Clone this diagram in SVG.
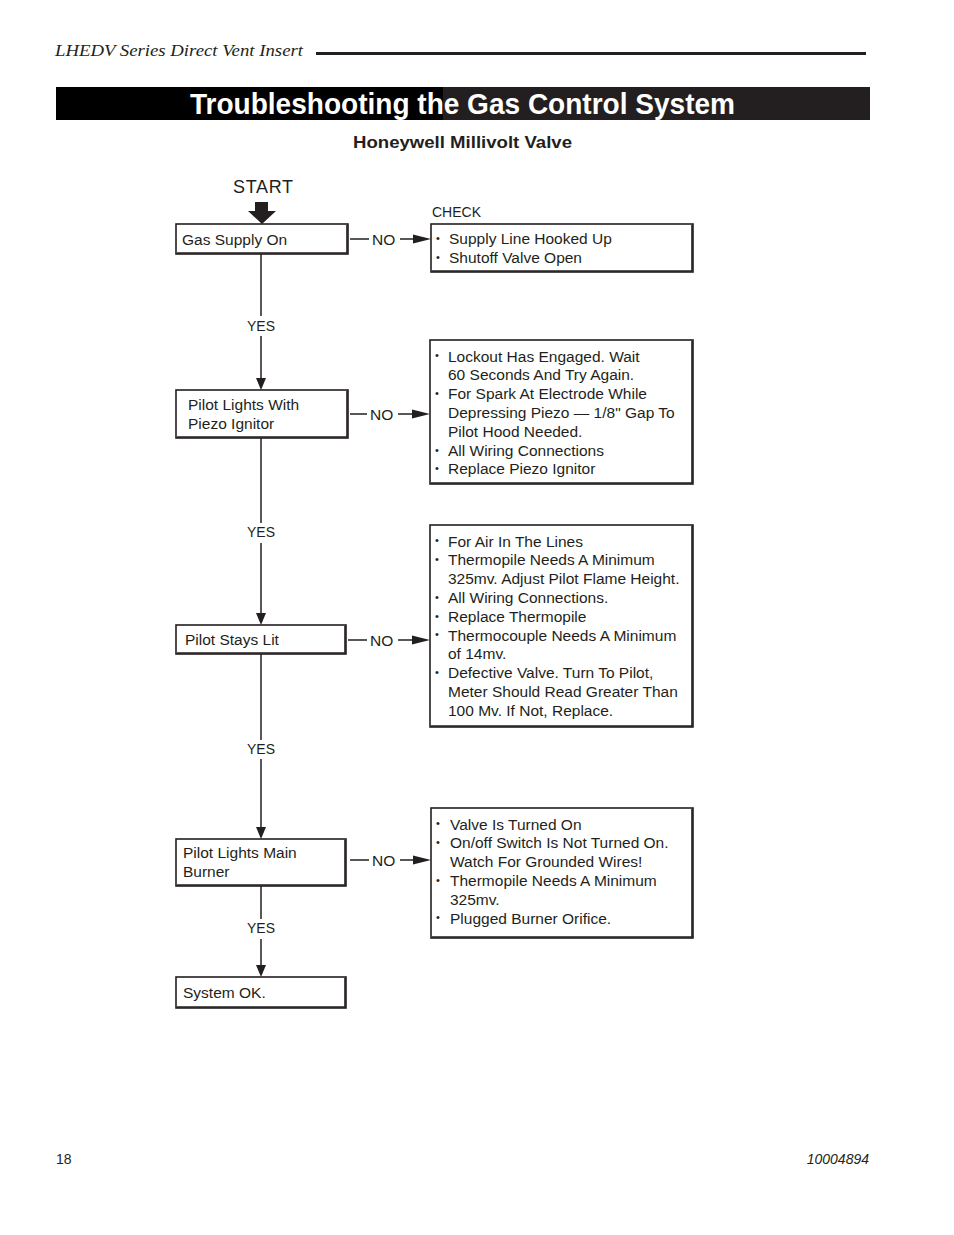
<svg xmlns="http://www.w3.org/2000/svg" width="954" height="1235" viewBox="0 0 954 1235">
<style>
.t{font-family:"Liberation Sans",Arial,sans-serif;font-size:15.5px;fill:#231f20}
.s{font-family:"Liberation Sans",Arial,sans-serif;font-size:14px;fill:#231f20}
.b{font-family:"Liberation Sans",Arial,sans-serif;font-size:11px;fill:#231f20}
.box{fill:#fff;stroke:#231f20;stroke-width:1.6}
.sh{fill:none;stroke:#231f20;stroke-width:1.6}
.ln{stroke:#231f20;stroke-width:1.5;fill:none}
.ah{fill:#231f20}
</style>
<rect width="954" height="1235" fill="#fff"/>
<g id="header">
<text x="55" y="56" font-family="Liberation Serif,'Times New Roman',serif" font-style="italic" font-size="17" fill="#231f20" textLength="248" lengthAdjust="spacingAndGlyphs">LHEDV Series Direct Vent Insert</text>
<line x1="316" y1="53.5" x2="866" y2="53.5" stroke="#231f20" stroke-width="3"/>
<rect x="56" y="87" width="388" height="33" fill="#000"/>
<rect x="443" y="87" width="427" height="33" fill="#231f20"/>
<text x="190" y="114" font-family="'Liberation Sans',Arial,sans-serif" font-weight="bold" font-size="29" fill="#fff" textLength="545" lengthAdjust="spacingAndGlyphs">Troubleshooting the Gas Control System</text>
<text x="353" y="148" font-family="'Liberation Sans',Arial,sans-serif" font-weight="bold" font-size="17" fill="#231f20" textLength="219" lengthAdjust="spacingAndGlyphs">Honeywell Millivolt Valve</text>
</g>
<g id="start">
<text x="233" y="193" font-family="'Liberation Sans',Arial,sans-serif" font-size="18" fill="#231f20" textLength="60">START</text>
<polygon points="255,202 268,202 268,211 276,211 262,224 248,211 255,211" fill="#231f20"/>
<text x="432" y="217" class="s">CHECK</text>
</g>
<g id="connectors">
<line class="ln" x1="261" y1="254" x2="261" y2="316"/>
<text x="261" y="331" class="s" text-anchor="middle">YES</text>
<line class="ln" x1="261" y1="336" x2="261" y2="380"/>
<polygon class="ah" points="256,378 266,378 261,390"/>
<line class="ln" x1="261" y1="438" x2="261" y2="523"/>
<text x="261" y="537" class="s" text-anchor="middle">YES</text>
<line class="ln" x1="261" y1="543" x2="261" y2="615"/>
<polygon class="ah" points="256,613 266,613 261,625"/>
<line class="ln" x1="261" y1="654" x2="261" y2="740"/>
<text x="261" y="754" class="s" text-anchor="middle">YES</text>
<line class="ln" x1="261" y1="759" x2="261" y2="829"/>
<polygon class="ah" points="256,827 266,827 261,839"/>
<line class="ln" x1="261" y1="886" x2="261" y2="919"/>
<text x="261" y="933" class="s" text-anchor="middle">YES</text>
<line class="ln" x1="261" y1="939" x2="261" y2="967"/>
<polygon class="ah" points="256,965 266,965 261,977"/>

<line class="ln" x1="350" y1="239" x2="369" y2="239"/>
<text x="372" y="244.5" class="t">NO</text>
<line class="ln" x1="400" y1="239" x2="415" y2="239"/>
<polygon class="ah" points="413,234.5 431,239 413,243.5"/>

<line class="ln" x1="350" y1="414" x2="367" y2="414"/>
<text x="370" y="419.5" class="t">NO</text>
<line class="ln" x1="398" y1="414" x2="414" y2="414"/>
<polygon class="ah" points="412,409.5 430,414 412,418.5"/>

<line class="ln" x1="348" y1="640" x2="367" y2="640"/>
<text x="370" y="645.5" class="t">NO</text>
<line class="ln" x1="398" y1="640" x2="414" y2="640"/>
<polygon class="ah" points="412,635.5 430,640 412,644.5"/>

<line class="ln" x1="350" y1="860" x2="369" y2="860"/>
<text x="372" y="865.5" class="t">NO</text>
<line class="ln" x1="400" y1="860" x2="415" y2="860"/>
<polygon class="ah" points="413,855.5 431,860 413,864.5"/>
</g>
<g id="n-gas">
<rect class="box" x="176" y="224" width="172" height="30"/>
<path class="sh" d="M347,225 V253 H177"/>
<text x="182" y="245" class="t">Gas Supply On</text>
</g>
<g id="n-pilot-piezo">
<rect class="box" x="176" y="390" width="172" height="48"/>
<path class="sh" d="M347,391 V437 H177"/>
<text x="188" y="410" class="t">Pilot Lights With</text>
<text x="188" y="429" class="t">Piezo Ignitor</text>
</g>
<g id="n-pilot-lit">
<rect class="box" x="176" y="625" width="170" height="29"/>
<path class="sh" d="M345,626 V653 H177"/>
<text x="185" y="645" class="t">Pilot Stays Lit</text>
</g>
<g id="n-main">
<rect class="box" x="176" y="839" width="170" height="47"/>
<path class="sh" d="M345,840 V885 H177"/>
<text x="183" y="858" class="t">Pilot Lights Main</text>
<text x="183" y="877" class="t">Burner</text>
</g>
<g id="n-ok">
<rect class="box" x="176" y="977" width="170" height="31"/>
<path class="sh" d="M345,978 V1007 H177"/>
<text x="183" y="998" class="t">System OK.</text>
</g>
<g id="c-gas">
<rect class="box" x="431" y="224" width="262" height="48"/>
<path class="sh" d="M692,225 V271 H432"/>
<text x="436" y="241.5" class="b">•</text>
<text x="449" y="244" class="t">Supply Line Hooked Up</text>
<text x="436" y="260.5" class="b">•</text>
<text x="449" y="263" class="t">Shutoff Valve Open</text>
</g>
<g id="c-piezo">
<rect class="box" x="430" y="340" width="263" height="144"/>
<path class="sh" d="M692,341 V483 H431"/>
<text x="435" y="358.5" class="b">•</text>
<text x="448" y="361.5" class="t">Lockout Has Engaged. Wait</text>
<text x="448" y="380.3" class="t">60 Seconds And Try Again.</text>
<text x="435" y="396.5" class="b">•</text>
<text x="448" y="399.1" class="t">For Spark At Electrode While</text>
<text x="448" y="417.9" class="t">Depressing Piezo — 1/8" Gap To</text>
<text x="448" y="436.7" class="t">Pilot Hood Needed.</text>
<text x="435" y="453.5" class="b">•</text>
<text x="448" y="455.5" class="t">All Wiring Connections</text>
<text x="435" y="472.3" class="b">•</text>
<text x="448" y="474.3" class="t">Replace Piezo Ignitor</text>
</g>
<g id="c-lit">
<rect class="box" x="430" y="525" width="263" height="202"/>
<path class="sh" d="M692,526 V726 H431"/>
<text x="435" y="543.5" class="b">•</text>
<text x="448" y="546.5" class="t">For Air In The Lines</text>
<text x="435" y="562.5" class="b">•</text>
<text x="448" y="565.3" class="t">Thermopile Needs A Minimum</text>
<text x="448" y="584.1" class="t">325mv. Adjust Pilot Flame Height.</text>
<text x="435" y="600.5" class="b">•</text>
<text x="448" y="602.9" class="t">All Wiring Connections.</text>
<text x="435" y="619.5" class="b">•</text>
<text x="448" y="621.7" class="t">Replace Thermopile</text>
<text x="435" y="638" class="b">•</text>
<text x="448" y="640.5" class="t">Thermocouple Needs A Minimum</text>
<text x="448" y="659.3" class="t">of 14mv.</text>
<text x="435" y="675.5" class="b">•</text>
<text x="448" y="678.1" class="t">Defective Valve. Turn To Pilot,</text>
<text x="448" y="696.9" class="t">Meter Should Read Greater Than</text>
<text x="448" y="715.7" class="t">100 Mv. If Not, Replace.</text>
</g>
<g id="c-main">
<rect class="box" x="431" y="808" width="262" height="130"/>
<path class="sh" d="M692,809 V937 H432"/>
<text x="436" y="826.5" class="b">•</text>
<text x="450" y="829.5" class="t">Valve Is Turned On</text>
<text x="436" y="845.5" class="b">•</text>
<text x="450" y="848.3" class="t">On/off Switch Is Not Turned On.</text>
<text x="450" y="867.1" class="t">Watch For Grounded Wires!</text>
<text x="436" y="883.5" class="b">•</text>
<text x="450" y="885.9" class="t">Thermopile Needs A Minimum</text>
<text x="450" y="904.7" class="t">325mv.</text>
<text x="436" y="921" class="b">•</text>
<text x="450" y="923.5" class="t">Plugged Burner Orifice.</text>
</g>
<g id="footer">
<text x="56" y="1164" class="s">18</text>
<text x="869" y="1164" class="s" font-style="italic" text-anchor="end">10004894</text>
</g>
</svg>
